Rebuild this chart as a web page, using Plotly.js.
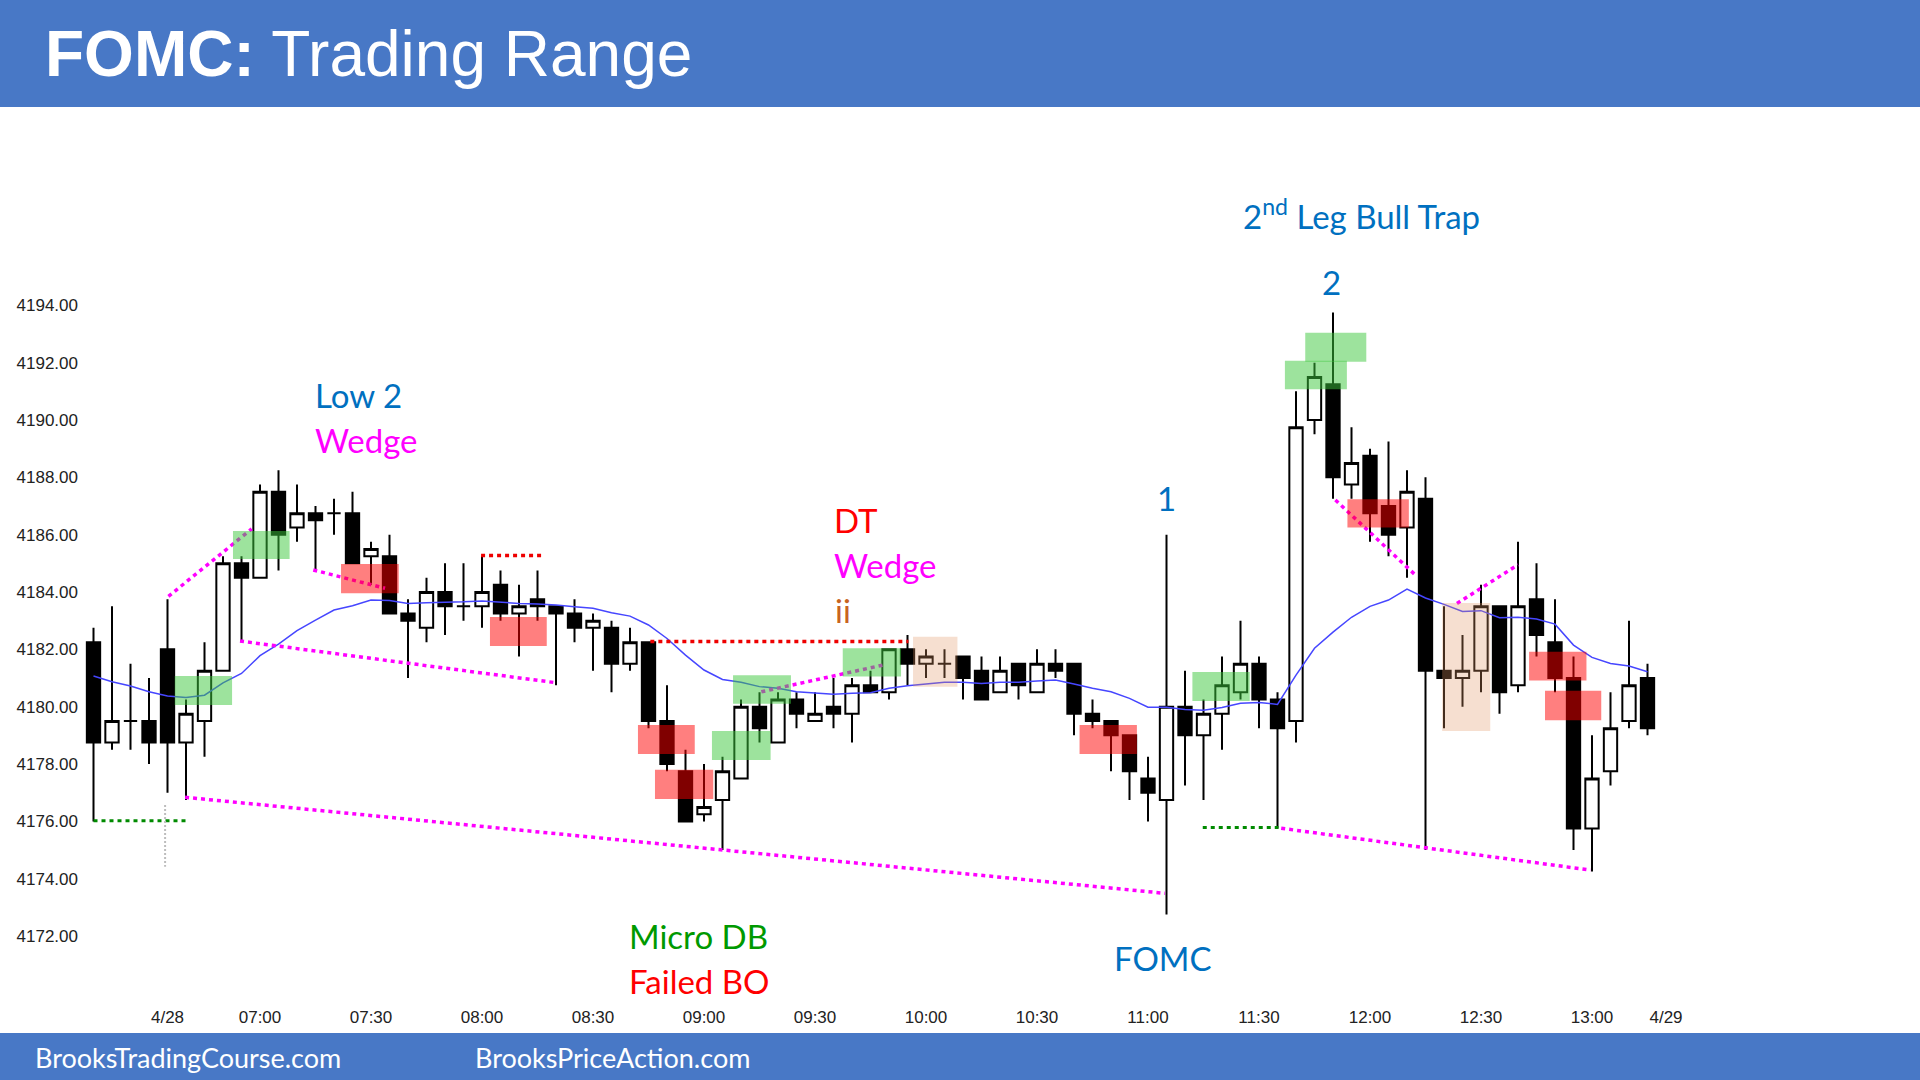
<!DOCTYPE html>
<html>
<head>
<meta charset="utf-8">
<script src="https://cdn.plot.ly/plotly-3.0.1.min.js"></script>
<style>
  html, body { margin: 0; padding: 0; background: #fff; }
  #chart { width: 1920px; height: 1080px; }
</style>
</head>
<body>
<div id="chart"></div>
<script>
// 5-minute bars, 4/28 (index 0 = 06:15, index 4 = 06:35 first RTH bar)
const barOpen = [
  4182.25, 4178.75, 4179.5, 4179.5, 4182, 4178.75, 4179.5, 4181.25, 4185, 4184.5,
  4187.5, 4186.25, 4186.75, 4186.75, 4186.75, 4185.25, 4185.25, 4183.25, 4182.75, 4184,
  4183.5, 4183.5, 4184.25, 4183.25, 4183.75, 4183.5, 4183.25, 4182.75, 4182.75, 4181.5,
  4182.25, 4179.5, 4177.75, 4176.25, 4176.75, 4177.5, 4180, 4178.75, 4180.25, 4179.5,
  4180, 4179.75, 4180.75, 4180.5, 4182, 4181.5, 4181.5, 4181.75, 4181.25, 4180.5,
  4181.5, 4180.5, 4181.5, 4181.5, 4179.75, 4179.5, 4179, 4177.5, 4176.75, 4180,
  4179, 4179.75, 4180.5, 4181.5, 4180.25, 4179.5, 4190, 4191.25, 4187.75, 4188.75,
  4187, 4186.25, 4187.25, 4181.25, 4181, 4181.25, 4183.5, 4180.75, 4183.75, 4182.25,
  4181, 4175.75, 4177.75, 4179.5, 4181
];
const barHigh = [
  4182.75, 4183.5, 4181.5, 4181, 4183.75, 4180.25, 4182.25, 4185.25, 4185.25, 4187.75,
  4188.25, 4187.75, 4187, 4187.25, 4187.5, 4185.75, 4186, 4183.75, 4184.5, 4185,
  4185, 4185.25, 4184.75, 4184.25, 4184.75, 4183.5, 4183.75, 4183.25, 4183, 4182.75,
  4182.25, 4180.75, 4178.5, 4178, 4178.25, 4180.25, 4180.5, 4180.5, 4180.5, 4180.5,
  4181, 4181, 4181.25, 4182, 4182.5, 4182, 4182, 4181.75, 4181.75, 4181.75,
  4181.5, 4182, 4182, 4181.5, 4180.25, 4179.5, 4179, 4178.25, 4186, 4181.25,
  4180.25, 4181.75, 4183, 4181.75, 4180.5, 4191, 4192, 4193.75, 4189.75, 4189,
  4189.25, 4188.25, 4188, 4183.5, 4182.5, 4184.25, 4183.5, 4185.75, 4185, 4183.75,
  4181.75, 4179, 4180.5, 4183, 4181.5
];
const barLow = [
  4176, 4178.5, 4178.5, 4178, 4177, 4176.75, 4178.25, 4181.25, 4182.25, 4184.5,
  4184.75, 4185.75, 4184.75, 4186, 4185, 4184.25, 4183.25, 4181, 4182.25, 4182.5,
  4183, 4182.75, 4183, 4181.75, 4183, 4180.75, 4182.25, 4181.25, 4180.5, 4181.25,
  4179.25, 4177.75, 4176, 4176, 4175, 4177.5, 4178.75, 4178.75, 4179.25, 4179.5,
  4179.25, 4178.75, 4180.5, 4180.25, 4180.75, 4181, 4181, 4180.25, 4180.25, 4180.5,
  4180.25, 4180.5, 4181, 4179, 4179.25, 4177.75, 4176.75, 4176, 4172.75, 4177.25,
  4176.75, 4178.5, 4180.25, 4179.25, 4175.75, 4178.75, 4189.5, 4187.25, 4187.25, 4185.75,
  4185.25, 4184.5, 4175, 4179.25, 4180, 4180.5, 4179.75, 4180.5, 4181.75, 4180.5,
  4175, 4174.25, 4177.25, 4179.25, 4179
];
const barClose = [
  4178.75, 4179.5, 4179.5, 4178.75, 4178.75, 4179.75, 4181.25, 4185, 4184.5, 4187.5,
  4186, 4186.75, 4186.5, 4186.75, 4185, 4185.5, 4183.25, 4183, 4184, 4183.5,
  4183.5, 4184, 4183.25, 4183.5, 4183.5, 4183.25, 4182.75, 4183, 4181.5, 4182.25,
  4179.5, 4178, 4176, 4176.5, 4177.75, 4180, 4179.25, 4180.25, 4179.75, 4179.75,
  4179.75, 4180.75, 4180.5, 4182, 4181.5, 4181.75, 4181.5, 4181, 4180.25, 4181.25,
  4180.75, 4181.5, 4181.25, 4179.75, 4179.5, 4179, 4177.75, 4177, 4180, 4179,
  4179.75, 4180.75, 4181.5, 4180.25, 4179.25, 4189.75, 4191.5, 4188, 4188.5, 4186.75,
  4186, 4187.5, 4181.25, 4181, 4181.25, 4183.5, 4180.5, 4183.5, 4182.5, 4181,
  4175.75, 4177.5, 4179.25, 4180.75, 4179.25
];
// 20-bar EMA as drawn on the chart
const emaLine = [
  4181.07, 4180.87, 4180.72, 4180.52, 4180.37, 4180.32, 4180.4, 4180.83, 4181.16, 4181.78,
  4182.18, 4182.65, 4183.02, 4183.37, 4183.52, 4183.72, 4183.7, 4183.6, 4183.63, 4183.64,
  4183.66, 4183.69, 4183.64, 4183.6, 4183.58, 4183.55, 4183.49, 4183.43, 4183.28, 4183.16,
  4182.85, 4182.38, 4181.8, 4181.28, 4180.95, 4180.85, 4180.7, 4180.64, 4180.52, 4180.47,
  4180.43, 4180.47, 4180.49, 4180.64, 4180.73, 4180.79, 4180.85, 4180.85, 4180.81, 4180.85,
  4180.85, 4180.9, 4180.93, 4180.79, 4180.64, 4180.52, 4180.29, 4179.98, 4179.98, 4179.9,
  4179.88, 4179.97, 4180.12, 4180.15, 4180.08, 4181.1, 4182.04, 4182.6, 4183.12, 4183.5,
  4183.72, 4184.1, 4183.79, 4183.57, 4183.32, 4183.35, 4183.1, 4183.12, 4183.06, 4182.88,
  4182.15, 4181.72, 4181.51, 4181.42, 4181.22
];
const barIdx = barOpen.map((_, i) => i);

const tickPos  = [4, 9, 15, 21, 27, 33, 39, 45, 51, 57, 63, 69, 75, 81, 85];
const tickText = ['4/28', '07:00', '07:30', '08:00', '08:30', '09:00', '09:30', '10:00',
                  '10:30', '11:00', '11:30', '12:00', '12:30', '13:00', '4/29'];
const priceTicks = [4172, 4174, 4176, 4178, 4180, 4182, 4184, 4186, 4188, 4190, 4192, 4194];

// signal-bar boxes [x0, x1, y0, y1] in bar index / price
const greenBoxes = [
  [4.39, 7.49, 4180.06, 4181.07], [7.54, 10.6, 4185.15, 4186.13],
  [33.43, 36.6, 4178.14, 4179.15], [34.57, 37.7, 4180.1, 4181.1],
  [40.5, 43.65, 4181.05, 4182.04], [59.4, 62.5, 4180.2, 4181.21],
  [64.4, 67.75, 4191.07, 4192.07], [65.5, 68.8, 4192.03, 4193.04]
];
const redBoxes = [
  [13.38, 16.5, 4183.96, 4184.98], [21.43, 24.5, 4182.12, 4183.13],
  [29.43, 32.5, 4178.35, 4179.36], [30.35, 33.5, 4176.78, 4177.8],
  [53.3, 56.4, 4178.35, 4179.36], [67.78, 71.1, 4186.25, 4187.24],
  [77.6, 80.7, 4180.91, 4181.92], [78.46, 81.5, 4179.53, 4180.56]
];
const tanBoxes = [
  [44.3, 46.7, 4180.7, 4182.44], [72.9, 75.5, 4179.15, 4183.62]
];
// dotted lines [x0, y0, x1, y1]
const magentaLines = [
  [4.05, 4183.85, 8.55, 4186.2], [11.88, 4184.77, 15.76, 4184.13],
  [7.92, 4182.29, 24.95, 4180.84], [4.95, 4176.84, 57.92, 4173.49],
  [36.1, 4180.52, 42.66, 4181.45], [67.13, 4187.21, 71.46, 4184.59],
  [73.7, 4183.6, 77.0, 4184.95], [64.2, 4175.76, 80.92, 4174.3]
];
const redLines = [
  [20.95, 4185.27, 24.2, 4185.27], [30.1, 4182.27, 44.05, 4182.27]
];
const greenLines = [
  [0, 4176.02, 5.0, 4176.02], [59.96, 4175.79, 64.05, 4175.79]
];
const sessionMark = [3.87, 4176.57, 3.87, 4174.42];

// page geometry (pixels) of the plot area
const L = 80, T = 110, W = 1600, H = 890;
const ppx = x => (x - L) / W;
const ppy = y => (T + H - y) / H;
const pxToIdx = x => (x - 93.5) / 18.5;
const pxToPrice = y => 4190 - (y - 420) / 28.67;

const shapes = [];
const seg = (s, color, width, dash) => shapes.push({
  type: 'line', xref: 'x', yref: 'y', x0: s[0], y0: s[1], x1: s[2], y1: s[3],
  line: { color, width, dash }
});
magentaLines.forEach(s => seg(s, '#ff00ff', 3.5, '4px,4px'));
redLines.forEach(s => seg(s, '#ee0000', 3.5, '4px,4px'));
greenLines.forEach(s => seg(s, '#008a00', 3, '4px,4px'));
seg(sessionMark, '#bdbdbd', 2, '2px,2px');

const box = (b, fill) => shapes.push({
  type: 'rect', xref: 'x', yref: 'y', x0: b[0], x1: b[1], y0: b[2], y1: b[3],
  fillcolor: fill, line: { width: 0 }
});
greenBoxes.forEach(b => box(b, 'rgba(60,200,60,0.5)'));
redBoxes.forEach(b => box(b, 'rgba(255,0,0,0.5)'));
tanBoxes.forEach(b => box(b, 'rgba(225,150,100,0.3)'));

// header and footer bands
shapes.push({ type: 'rect', xref: 'paper', yref: 'paper', x0: ppx(0), x1: ppx(1920),
  y0: ppy(0), y1: ppy(107), fillcolor: '#4878c6', line: { width: 0 } });
shapes.push({ type: 'rect', xref: 'paper', yref: 'paper', x0: ppx(0), x1: ppx(1920),
  y0: ppy(1033), y1: ppy(1080), fillcolor: '#4878c6', line: { width: 0 } });

const calibri = 'Lato, "Open Sans", sans-serif';
const note = (text, x, y, color, anchor) => ({
  text, xref: 'x', yref: 'y', x: pxToIdx(x), y: pxToPrice(y),
  xanchor: anchor || 'center', yanchor: 'middle', showarrow: false,
  font: { family: calibri, size: 33, color }
});
const annotations = [
  note('Low 2', 358, 395, '#0070c0'),
  note('Wedge', 366, 440, '#ff00ff'),
  note('DT', 832, 520, '#ff0000', 'left'),
  note('Wedge', 832, 565, '#ff00ff', 'left'),
  note('ii', 833, 610, '#c8641e', 'left'),
  note('1', 1166, 498, '#0070c0'),
  note('2<sup>nd</sup> Leg Bull Trap', 1361, 214, '#0070c0'),
  note('2', 1331, 282, '#0070c0'),
  note('Micro DB', 698, 936, '#009900'),
  note('Failed BO', 699, 981, '#ff0000'),
  note('FOMC', 1163, 958, '#0070c0'),
  { text: '<b>FOMC:</b> Trading Range', xref: 'paper', yref: 'paper',
    x: ppx(43), y: ppy(54), xanchor: 'left', yanchor: 'middle', showarrow: false,
    font: { family: '"Liberation Sans", Arial, sans-serif', size: 64, color: '#ffffff' } },
  { text: 'BrooksTradingCourse.com', xref: 'paper', yref: 'paper',
    x: ppx(33), y: ppy(1057), xanchor: 'left', yanchor: 'middle', showarrow: false,
    font: { family: calibri, size: 27, color: '#ffffff' } },
  { text: 'BrooksPriceAction.com', xref: 'paper', yref: 'paper',
    x: ppx(473), y: ppy(1057), xanchor: 'left', yanchor: 'middle', showarrow: false,
    font: { family: calibri, size: 27, color: '#ffffff' } }
];

const traces = [
  {
    type: 'candlestick', x: barIdx, open: barOpen, high: barHigh, low: barLow, close: barClose,
    increasing: { line: { color: '#000000', width: 2 }, fillcolor: '#ffffff' },
    decreasing: { line: { color: '#000000', width: 2 }, fillcolor: '#000000' },
    whiskerwidth: 0, hoverinfo: 'skip', showlegend: false
  },
  {
    type: 'scatter', mode: 'lines', x: barIdx, y: emaLine,
    line: { color: '#4646ff', width: 1.5 }, hoverinfo: 'skip', showlegend: false
  }
];

const layout = {
  width: 1920, height: 1080,
  margin: { l: L, r: 1920 - L - W, t: T, b: 1080 - T - H, pad: 0 },
  paper_bgcolor: '#ffffff', plot_bgcolor: '#ffffff',
  showlegend: false,
  boxgap: 0.28, boxgroupgap: 0,
  xaxis: {
    range: [pxToIdx(L), pxToIdx(L + W)], rangeslider: { visible: false },
    showgrid: false, zeroline: false, showline: false, ticks: '',
    tickvals: tickPos, ticktext: tickText, ticklabelstandoff: 5,
    tickfont: { family: '"Liberation Sans", Arial, sans-serif', size: 17, color: '#222' }
  },
  yaxis: {
    range: [pxToPrice(T + H), pxToPrice(T)],
    showgrid: false, zeroline: false, showline: false, ticks: '',
    tickvals: priceTicks, tickformat: '.2f', ticklabelstandoff: 1,
    tickfont: { family: '"Liberation Sans", Arial, sans-serif', size: 17, color: '#222' }
  },
  shapes, annotations
};

Plotly.newPlot('chart', traces, layout, { staticPlot: true, displayModeBar: false });
</script>
</body>
</html>
